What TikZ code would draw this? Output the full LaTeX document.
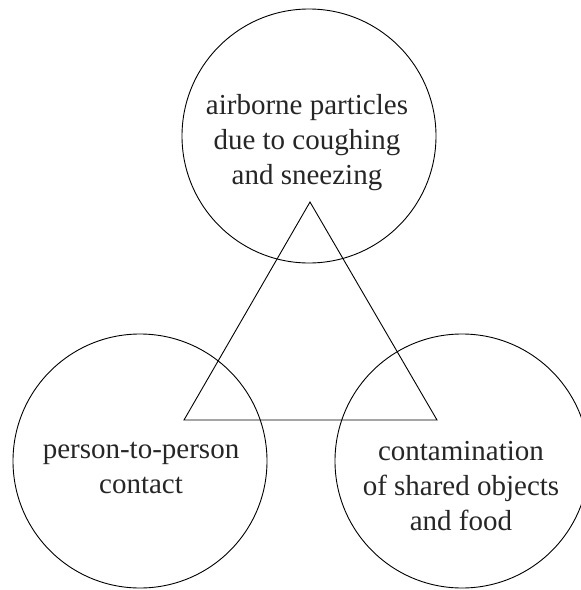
\documentclass[tikz,border=0pt]{standalone}
\usepackage{fontspec}
\setmainfont{Liberation Serif}
\usepackage{tikz}

\begin{document}
\begin{tikzpicture}[x=1pt, y=-1pt,
        main/.style = {draw, circle, line width=0.9pt, minimum size=254pt, inner sep=0pt},
        txt/.style = {align=center, font=\fontsize{29}{35}\selectfont, text=black!85}]
                \useasboundingbox (0, 0) rectangle (581, 590);

                \node[main] at (309, 136) (air) {};
                \node[main] at (140, 461) (person) {};
                \node[main] at (462, 461) (contam) {};

                \node[txt] at (307, 143) (airtext) {airborne particles\\due to coughing\\and sneezing};
                \node[txt] at (141, 468) (persontext) {person-to-person\\contact};
                \node[txt] at (461, 486) (contamtext) {contamination\\of shared objects\\and food};

                \coordinate (top) at (310, 202);
                \coordinate (left) at (184, 420);
                \coordinate (right) at (437, 420);

                \draw [line width=0.9pt] (top) -- (left) -- (right) -- cycle;
            \end{tikzpicture}
\end{document}
